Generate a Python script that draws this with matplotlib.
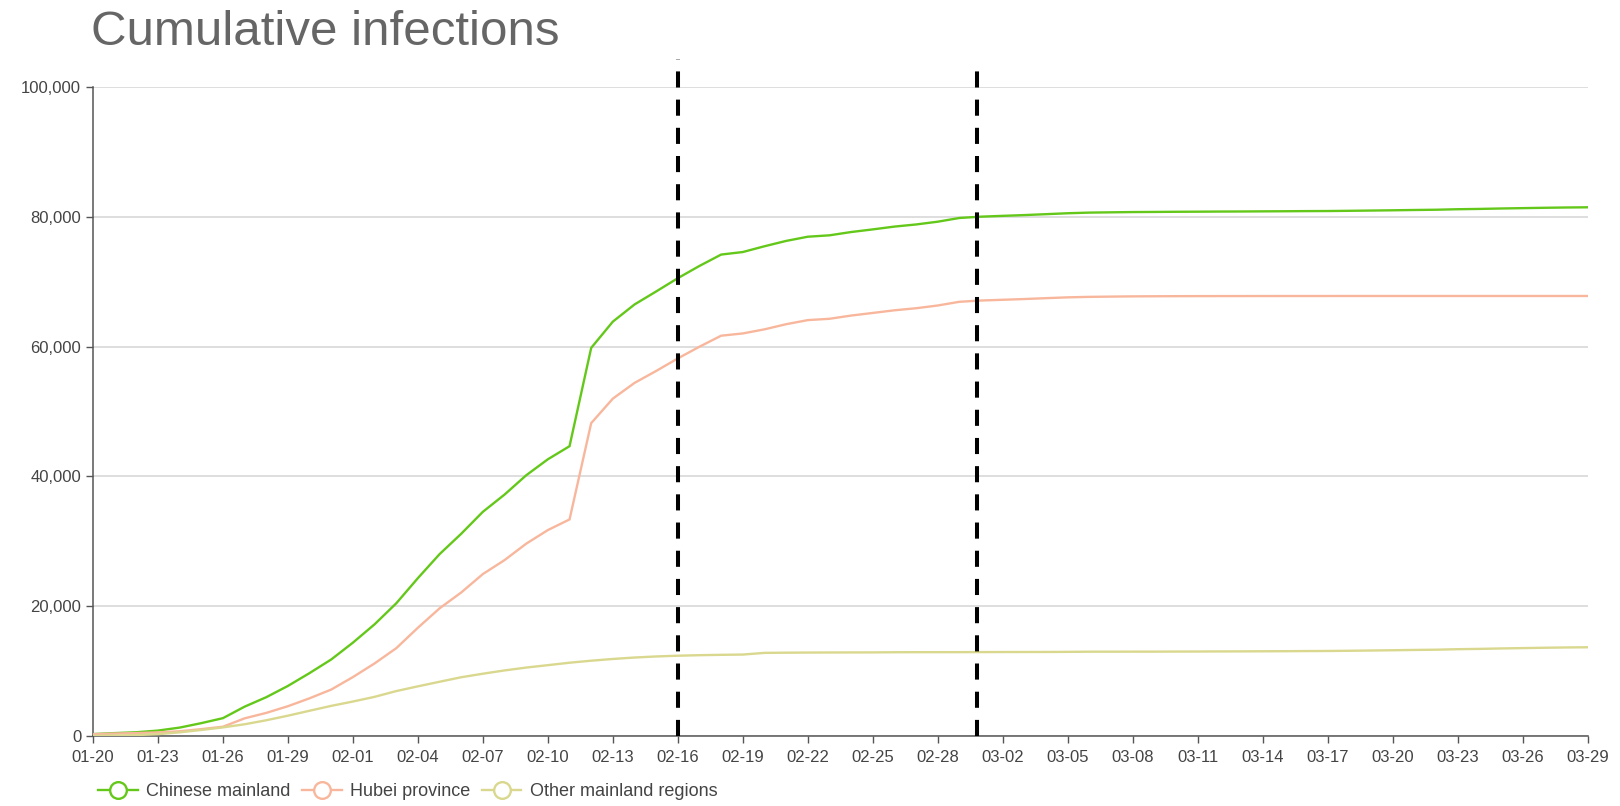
import matplotlib.pyplot as plt
import numpy as np
from matplotlib.lines import Line2D
from matplotlib.ticker import FuncFormatter

# daily dates 01-20 .. 03-29 (2020)
DATES = (
    [f"01-{d:02d}" for d in range(20, 32)]
    + [f"02-{d:02d}" for d in range(1, 30)]
    + [f"03-{d:02d}" for d in range(1, 30)]
)

CHINESE_MAINLAND = [
    291, 440, 571, 830, 1287, 1975, 2744, 4515, 5974, 7711, 9692, 11791,
    14380, 17205, 20438, 24324, 28018, 31161, 34546, 37198, 40171, 42638,
    44653, 59804, 63851, 66492, 68500, 70548, 72436, 74185, 74576, 75465,
    76288, 76936, 77150, 77658, 78064, 78497, 78824, 79251, 79824,
    80026, 80151, 80270, 80409, 80552, 80651, 80695, 80735, 80754, 80778,
    80793, 80813, 80824, 80844, 80860, 80881, 80894, 80928, 80967, 81008,
    81054, 81093, 81171, 81218, 81285, 81340, 81394, 81439, 81470,
]
HUBEI = [
    270, 375, 444, 549, 729, 1052, 1423, 2714, 3554, 4586, 5806, 7153,
    9074, 11177, 13522, 16678, 19665, 22112, 24953, 27100, 29631, 31728,
    33366, 48206, 51986, 54406, 56249, 58182, 59989, 61682, 62031, 62662,
    63454, 64084, 64287, 64786, 65187, 65596, 65914, 66337, 66907,
    67103, 67217, 67332, 67466, 67592, 67666, 67707, 67743, 67760, 67773,
    67781, 67786, 67790, 67794, 67798, 67799, 67799, 67800, 67800, 67800,
    67800, 67800, 67801, 67801, 67801, 67801, 67801, 67801, 67801,
]
OTHER_REGIONS = [
    21, 65, 127, 281, 558, 923, 1321, 1801, 2420, 3125, 3886, 4638,
    5306, 6028, 6916, 7646, 8353, 9049, 9593, 10098, 10540, 10910,
    11287, 11598, 11865, 12086, 12251, 12366, 12447, 12503, 12545, 12803,
    12834, 12852, 12863, 12872, 12877, 12901, 12910, 12914, 12917,
    12923, 12934, 12938, 12943, 12960, 12985, 12988, 12992, 12994, 13005,
    13012, 13027, 13034, 13050, 13062, 13082, 13095, 13128, 13167, 13208,
    13254, 13293, 13370, 13417, 13484, 13539, 13593, 13638, 13669,
]
SERIES_NAMES = ["Chinese mainland", "Hubei province", "Other mainland regions"]
MARKER_DATES = ["02-16", "03-01"]

COLORS = ["#64C81A", "#F8B79C", "#D9D88E"]
AXIS_COLOR = "#555555"
TEXT_COLOR = "#444444"

plt.rcParams["font.family"] = ["Liberation Sans", "DejaVu Sans"]

fig = plt.figure(figsize=(16.2, 8.06), dpi=100)
ax = fig.add_axes([0.0574, 0.0869, 0.9226, 0.8051])

x = np.arange(len(DATES))
for values, name, color in zip([CHINESE_MAINLAND, HUBEI, OTHER_REGIONS], SERIES_NAMES, COLORS):
    ax.plot(x, values, color=color, linewidth=1.7, label=name, solid_joinstyle="miter", zorder=3)

# hand-drawn style dashed markers that poke above the plot area
dash_tops = [104300, 103400]
dash_pos = [DATES.index(MARKER_DATES[0]), DATES.index(MARKER_DATES[1]) - 0.2]
for xpos, top in zip(dash_pos, dash_tops):
    ax.plot([xpos, xpos], [0, top], color="black", linewidth=2.9,
            dashes=(4, 3), dash_capstyle="butt", clip_on=False, zorder=4)

ax.set_xlim(0, len(DATES) - 1)
ax.set_ylim(0, 100000)
ax.set_yticks(np.arange(0, 100001, 20000))
ax.yaxis.set_major_formatter(FuncFormatter(lambda v, _: f"{int(v):,}"))
ax.set_xticks(x[::3])
ax.set_xticklabels(DATES[::3])

ax.grid(axis="y", color="#d4d4d4", linewidth=1.1)
ax.set_axisbelow(True)
for side in ["top", "right"]:
    ax.spines[side].set_visible(False)
for side in ["left", "bottom"]:
    ax.spines[side].set_color(AXIS_COLOR)
    ax.spines[side].set_linewidth(1.1)
ax.tick_params(axis="both", colors=AXIS_COLOR, labelcolor=TEXT_COLOR, labelsize=12,
               length=5, width=1)
ax.tick_params(axis="x", pad=5)

fig.text(0.0562, 0.944, "Cumulative infections", fontsize=35.5, color="#666666",
         ha="left", va="baseline")

handles = [
    Line2D([], [], color=c, linewidth=1.7, marker="o", markersize=12,
           markerfacecolor="white", markeredgewidth=1.7)
    for c in COLORS
]
fig.legend(handles, SERIES_NAMES, loc="center left", bbox_to_anchor=(0.056, 0.018),
           ncol=3, frameon=False, fontsize=13, handlelength=2.2, handletextpad=0.45,
           columnspacing=0.65, labelcolor=TEXT_COLOR, borderaxespad=0)

fig.savefig("out.png", dpi=100)
